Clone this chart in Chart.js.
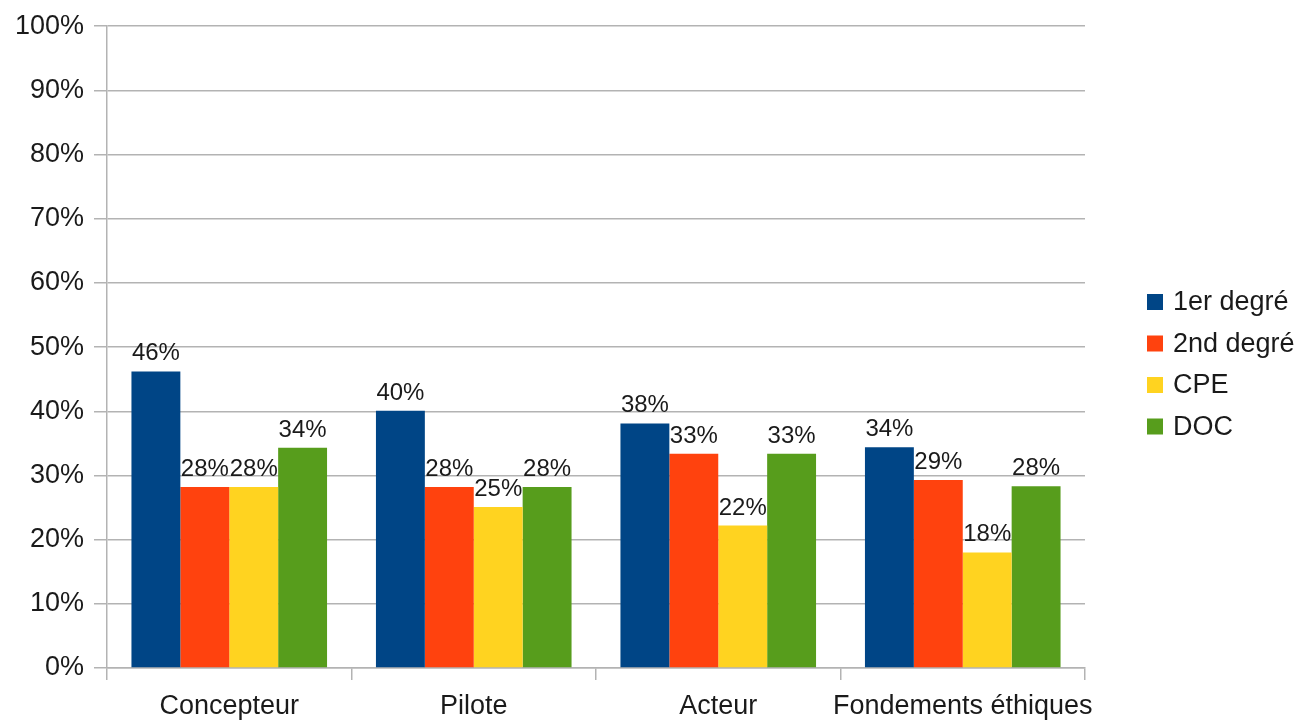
<!DOCTYPE html>
<html>
<head>
<meta charset="utf-8">
<script src="https://cdn.jsdelivr.net/npm/chart.js@4"></script>
<style>
  html, body { margin: 0; padding: 0; background: #fff; }
  #wrap { width: 1301px; height: 722px; }
</style>
</head>
<body>
<div id="wrap"><canvas id="c" width="1301" height="722"></canvas></div>
<script>
const categories = ["Concepteur", "Pilote", "Acteur", "Fondements éthiques"];
const seriesNames = ["1er degré", "2nd degré", "CPE", "DOC"];
const premierDegre = [0.462, 0.401, 0.381, 0.344];
const secondDegre = [0.282, 0.282, 0.334, 0.293];
const cpe = [0.282, 0.251, 0.222, 0.180];
const doc = [0.343, 0.282, 0.334, 0.283];
const seriesColors = ["#004586", "#ff420e", "#ffd320", "#579d1c"];
const yTicks = [0, 0.1, 0.2, 0.3, 0.4, 0.5, 0.6, 0.7, 0.8, 0.9, 1.0];

const FONT = "'Liberation Sans', Arial, sans-serif";
const TEXT = "#1a1a1a";
const GRID = "#b3b3b3";

const dataLabels = {
  id: 'dataLabels',
  afterDatasetsDraw(chart) {
    const ctx = chart.ctx;
    ctx.save();
    ctx.font = "24px " + FONT;
    ctx.fillStyle = TEXT;
    ctx.textAlign = 'center';
    ctx.textBaseline = 'alphabetic';
    chart.data.datasets.forEach((ds, i) => {
      const meta = chart.getDatasetMeta(i);
      meta.data.forEach((el, j) => {
        const v = ds.data[j];
        ctx.fillText(Math.round(v * 100) + '%', el.x, el.y - 11);
      });
    });
    ctx.restore();
  }
};

const sideLegend = {
  id: 'sideLegend',
  afterDraw(chart) {
    const ctx = chart.ctx;
    ctx.save();
    ctx.font = "27px " + FONT;
    ctx.textBaseline = 'middle';
    ctx.textAlign = 'left';
    const startY = 302, step = 41.5;
    chart.data.datasets.forEach((ds, i) => {
      const cy = startY + i * step;
      ctx.fillStyle = ds.backgroundColor;
      ctx.fillRect(1147, cy - 8, 16, 16);
      ctx.fillStyle = TEXT;
      ctx.fillText(ds.label, 1173, cy + 1);
    });
    ctx.restore();
  }
};

const seriesData = [premierDegre, secondDegre, cpe, doc];

new Chart(document.getElementById('c'), {
  type: 'bar',
  data: {
    labels: categories,
    datasets: seriesNames.map((name, i) => ({
      label: name,
      data: seriesData[i],
      backgroundColor: seriesColors[i],
      borderWidth: 0,
      categoryPercentage: 0.8,
      barPercentage: 1.0
    }))
  },
  options: {
    responsive: false,
    animation: false,
    devicePixelRatio: 1,
    layout: { padding: { top: 24, right: 216, left: 0, bottom: 0 } },
    plugins: {
      legend: { display: false },
      tooltip: { enabled: false }
    },
    scales: {
      x: {
        offset: true,
        grid: {
          offset: true,
          drawOnChartArea: false,
          color: GRID,
          tickLength: 12,
          lineWidth: 1.5
        },
        border: { color: GRID, width: 1.5 },
        ticks: {
          font: { family: FONT, size: 27 },
          color: TEXT,
          padding: 10,
          maxRotation: 0,
          autoSkip: false
        },
        afterFit(scale) { scale.height = 54; }
      },
      y: {
        min: 0,
        max: 1,
        afterBuildTicks(scale) { scale.ticks = yTicks.map(v => ({ value: v })); },
        grid: {
          color: GRID,
          tickLength: 13,
          lineWidth: 1.5
        },
        border: { color: GRID, width: 1.5 },
        ticks: {
          font: { family: FONT, size: 27 },
          color: TEXT,
          padding: 10,
          callback: v => Math.round(v * 100) + '%'
        },
        afterFit(scale) { scale.width = 107; }
      }
    }
  },
  plugins: [dataLabels, sideLegend]
});
</script>
</body>
</html>
